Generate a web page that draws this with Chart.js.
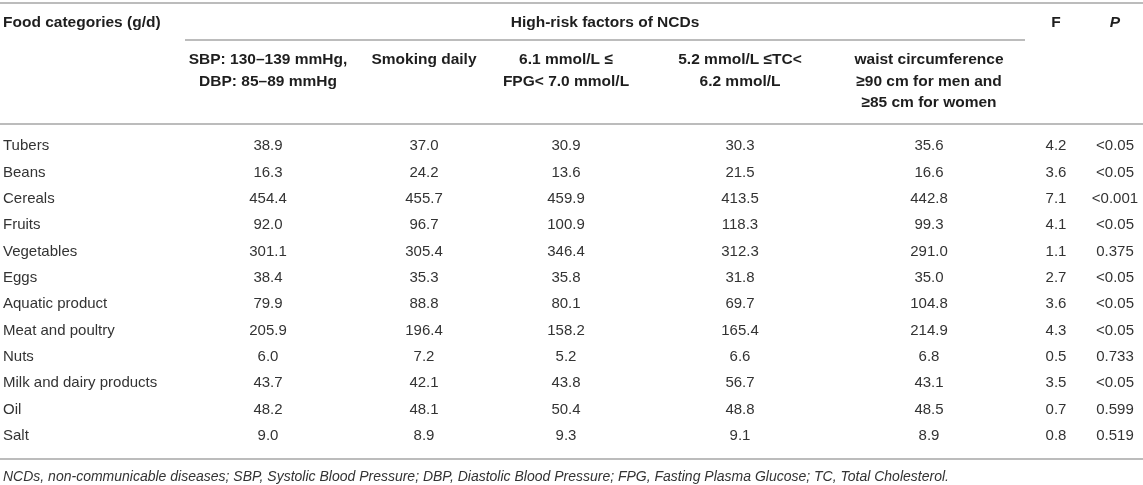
<!DOCTYPE html>
<html>
<head>
<meta charset="utf-8">
<script src="https://cdn.jsdelivr.net/npm/chart.js@4.4.1/dist/chart.umd.min.js"></script>
<style>
  html, body { margin: 0; padding: 0; background: #fff; }
</style>
</head>
<body>
<canvas id="nutritionTable" width="1143" height="485"></canvas>
<script>
// Table values
const foods = ['Tubers', 'Beans', 'Cereals', 'Fruits', 'Vegetables', 'Eggs', 'Aquatic product',
    'Meat and poultry', 'Nuts', 'Milk and dairy products', 'Oil', 'Salt'];
const sbp = [38.9, 16.3, 454.4, 92.0, 301.1, 38.4, 79.9, 205.9, 6.0, 43.7, 48.2, 9.0];
const smoking = [37.0, 24.2, 455.7, 96.7, 305.4, 35.3, 88.8, 196.4, 7.2, 42.1, 48.1, 8.9];
const fpg = [30.9, 13.6, 459.9, 100.9, 346.4, 35.8, 80.1, 158.2, 5.2, 43.8, 50.4, 9.3];
const tc = [30.3, 21.5, 413.5, 118.3, 312.3, 31.8, 69.7, 165.4, 6.6, 56.7, 48.8, 9.1];
const waist = [35.6, 16.6, 442.8, 99.3, 291.0, 35.0, 104.8, 214.9, 6.8, 43.1, 48.5, 8.9];
const fValues = [4.2, 3.6, 7.1, 4.1, 1.1, 2.7, 3.6, 4.3, 0.5, 3.5, 0.7, 0.8];
const pValues = ['<0.05', '<0.05', '<0.001', '<0.05', '0.375', '<0.05', '<0.05', '<0.05', '0.733', '<0.05', '0.599', '0.519'];

const firstHeader = 'Food categories (g/d)';
const groupHeader = 'High-risk factors of NCDs';
const factorHeaders = [
    ['SBP: 130–139 mmHg,', 'DBP: 85–89 mmHg'],
    ['Smoking daily'],
    ['6.1 mmol/L ≤', 'FPG< 7.0 mmol/L'],
    ['5.2 mmol/L ≤TC<', '6.2 mmol/L'],
    ['waist circumference', '≥90 cm for men and', '≥85 cm for women']
];
const footnote = 'NCDs, non-communicable diseases; SBP, Systolic Blood Pressure; DBP, Diastolic Blood Pressure; FPG, Fasting Plasma Glucose; TC, Total Cholesterol.';

// column centres on the x scale (0..1143)
const colX = [268, 424, 566, 740, 929, 1056, 1115];
const FONT = '"Liberation Sans", Arial, Helvetica, sans-serif';

// Each column is a dataset of invisible points, one per food row
const columns = [sbp, smoking, fpg, tc, waist, fValues, pValues];
const datasets = columns.map((col, k) => ({
    label: 'col' + k,
    data: col.map((v, i) => ({ x: colX[k], y: foods[i] })),
    cellText: col.map(v => typeof v === 'number' ? v.toFixed(1) : v),
    pointRadius: 0,
    pointHoverRadius: 0
}));

// Plugin that writes the table text and rules
const tablePlugin = {
    id: 'tablePlugin',
    afterDatasetsDraw(chart) {
        const ctx = chart.ctx;
        const xs = chart.scales.x;
        const ys = chart.scales.y;
        ctx.save();

        function rule(y, x1, x2) {
            ctx.beginPath();
            ctx.strokeStyle = '#bcbcbc';
            ctx.lineWidth = 2;
            ctx.moveTo(xs.getPixelForValue(x1), y);
            ctx.lineTo(xs.getPixelForValue(x2), y);
            ctx.stroke();
        }
        rule(3, 0, 1143);
        rule(40, 185, 1025);
        rule(124, 0, 1143);
        rule(459, 0, 1143);

        // header
        ctx.fillStyle = '#1e1e1e';
        ctx.textBaseline = 'middle';
        ctx.font = 'bold 15.5px ' + FONT;
        ctx.textAlign = 'left';
        ctx.fillText(firstHeader, 3, 23);
        ctx.textAlign = 'center';
        ctx.fillText(groupHeader, xs.getPixelForValue(605), 23);
        ctx.fillText('F', xs.getPixelForValue(colX[5]), 23);
        ctx.font = 'italic bold 15.5px ' + FONT;
        ctx.fillText('P', xs.getPixelForValue(colX[6]), 23);
        ctx.font = 'bold 15.5px ' + FONT;
        factorHeaders.forEach((lines, k) => {
            lines.forEach((line, j) => {
                ctx.fillText(line, xs.getPixelForValue(colX[k]), 60 + j * 21.3);
            });
        });

        // body
        ctx.font = '15px ' + FONT;
        ctx.fillStyle = '#333';
        ctx.textAlign = 'left';
        foods.forEach((f, i) => {
            ctx.fillText(f, 3, ys.getPixelForValue(i));
        });
        ctx.textAlign = 'center';
        chart.data.datasets.forEach((ds, k) => {
            const meta = chart.getDatasetMeta(k);
            meta.data.forEach((pt, i) => {
                ctx.fillText(ds.cellText[i], pt.x, pt.y);
            });
        });

        // footnote
        ctx.font = 'italic 14px ' + FONT;
        ctx.textAlign = 'left';
        ctx.fillText(footnote, 3, 477);
        ctx.restore();
    }
};

new Chart(document.getElementById('nutritionTable').getContext('2d'), {
    type: 'scatter',
    data: { datasets: datasets },
    options: {
        responsive: false,
        animation: false,
        events: [],
        layout: { padding: { top: 133, bottom: 36, left: 0, right: 0 } },
        scales: {
            x: { type: 'linear', min: 0, max: 1143, display: false },
            y: { type: 'category', labels: foods, offset: true, display: false }
        },
        plugins: {
            legend: { display: false },
            tooltip: { enabled: false }
        }
    },
    plugins: [tablePlugin]
});
</script>
</body>
</html>
